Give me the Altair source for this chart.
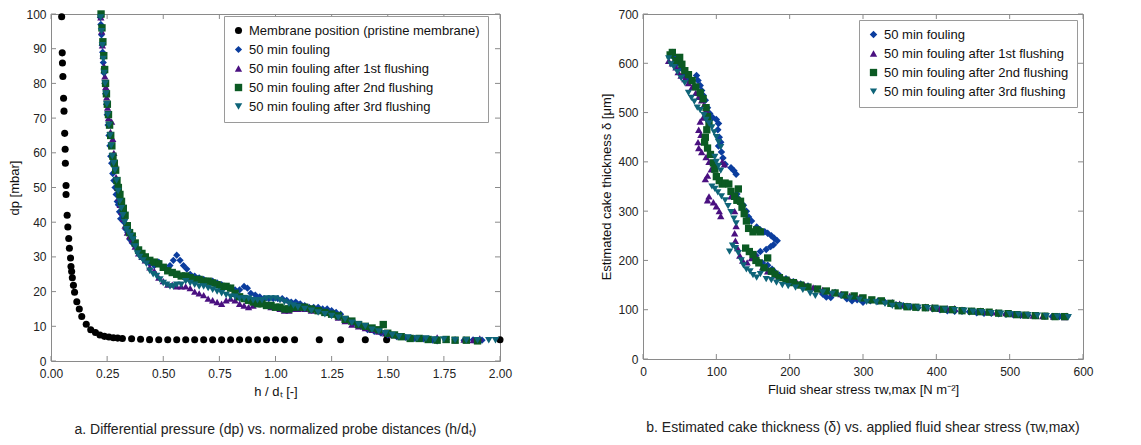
import altair as alt
import pandas as pd

# ---------------- data: panel a (dp vs h/dt) ----------------
series_a = ["Membrane position (pristine membrane)", "50 min fouling",
            "50 min fouling after 1st flushing", "50 min fouling after 2nd flushing",
            "50 min fouling after 3rd flushing"]
series_b = series_a[1:]

membrane_a = [(0.0475, 99.2), (0.050, 88.8), (0.051, 85.9), (0.053, 82), (0.056, 75.7), (0.058, 72),
              (0.061, 65.6), (0.063, 61), (0.064, 57), (0.067, 50.6), (0.067, 48), (0.072, 42),
              (0.075, 38.6), (0.079, 35.3), (0.082, 32.5), (0.087, 29.7), (0.089, 27.2), (0.092, 25.8),
              (0.095, 24), (0.100, 21.8), (0.105, 19.8), (0.115, 17.1), (0.126, 15), (0.137, 12.8),
              (0.157, 10.6), (0.177, 9), (0.198, 8.2), (0.218, 7.5), (0.238, 7.1), (0.258, 6.9),
              (0.278, 6.7), (0.297, 6.6), (0.318, 6.5), (0.359, 6.4), (0.399, 6.25), (0.439, 6.15),
              (0.48, 6.1), (0.52, 6.1), (0.56, 6.1), (0.60, 6.1), (0.64, 6.1), (0.68, 6.1), (0.72, 6.1),
              (0.76, 6.1), (0.80, 6.1), (0.84, 6.1), (0.88, 6.1), (0.92, 6.1), (0.96, 6.1), (1.00, 6.1),
              (1.04, 6.1), (1.085, 6.1), (1.195, 6.1), (1.29, 6.1), (1.40, 6.1), (1.495, 6.1), (2.0, 6.1)]

fouling_a = [(0.220, 99), (0.222, 97), (0.225, 94), (0.228, 91), (0.230, 89), (0.233, 86), (0.236, 83),
             (0.240, 80), (0.243, 77), (0.247, 74), (0.250, 71), (0.254, 68), (0.258, 65), (0.262, 62),
             (0.266, 59), (0.270, 57), (0.275, 54), (0.280, 52), (0.285, 50), (0.290, 48), (0.295, 46),
             (0.300, 45), (0.305, 43), (0.310, 41), (0.318, 42), (0.325, 40), (0.333, 38), (0.342, 37),
             (0.352, 35), (0.362, 34), (0.375, 33), (0.390, 31), (0.405, 30), (0.420, 29), (0.440, 28),
             (0.460, 27.5), (0.480, 28.5), (0.500, 27), (0.515, 26.5), (0.530, 27.5), (0.545, 29),
             (0.560, 30.5), (0.575, 29), (0.590, 27.5), (0.605, 26.5), (0.620, 25), (0.640, 24.5),
             (0.660, 24), (0.680, 23.5), (0.700, 23), (0.720, 23), (0.740, 22.5), (0.760, 22),
             (0.780, 21.5), (0.800, 21), (0.820, 20.5), (0.840, 20.5), (0.860, 21.5), (0.875, 21),
             (0.890, 19.5), (0.910, 19), (0.930, 18.5), (0.950, 18), (0.970, 18), (0.990, 18),
             (1.010, 18), (1.030, 18), (1.050, 17.5), (1.070, 17), (1.090, 17), (1.110, 16.5),
             (1.130, 16), (1.150, 15.5), (1.170, 15.5), (1.190, 15.5), (1.210, 15), (1.230, 15),
             (1.250, 14.5), (1.270, 14), (1.290, 13.5), (1.320, 12), (1.350, 11), (1.380, 10),
             (1.410, 9), (1.440, 8.5), (1.470, 8), (1.500, 7.5), (1.540, 7), (1.580, 6.8), (1.620, 6.5),
             (1.660, 6.4), (1.700, 6), (1.720, 5.8), (1.760, 6.2), (1.800, 6.1), (1.840, 6),
             (1.880, 6.1), (1.920, 6)]

flush1_a = [(0.222, 99), (0.226, 95), (0.229, 91), (0.232, 88), (0.236, 85), (0.240, 82), (0.244, 79),
            (0.248, 76), (0.252, 73), (0.256, 70), (0.260, 68), (0.265, 66), (0.270, 69), (0.275, 64),
            (0.280, 60), (0.285, 57), (0.290, 53), (0.296, 50), (0.302, 47), (0.308, 45), (0.315, 43),
            (0.322, 41), (0.330, 39), (0.340, 37), (0.350, 36), (0.362, 35), (0.375, 33), (0.390, 31),
            (0.405, 30), (0.420, 29), (0.440, 27), (0.460, 26), (0.480, 24), (0.500, 23), (0.520, 22),
            (0.540, 22), (0.560, 21.5), (0.580, 21.5), (0.600, 21.5), (0.620, 21), (0.640, 20),
            (0.660, 19.5), (0.680, 19), (0.700, 18), (0.720, 17.5), (0.740, 17), (0.760, 16.5),
            (0.780, 17.5), (0.800, 18), (0.820, 17.5), (0.840, 16.5), (0.860, 16), (0.880, 15.5),
            (0.900, 16), (0.920, 17), (0.940, 16.5), (0.960, 16), (0.980, 15.5), (1.000, 15.5),
            (1.020, 15), (1.040, 14.5), (1.060, 14.5), (1.080, 15), (1.100, 15), (1.130, 15),
            (1.160, 14.5), (1.190, 14.5), (1.220, 14), (1.250, 13.5), (1.280, 12.5), (1.310, 11.5),
            (1.340, 10.5), (1.370, 10), (1.400, 9.5), (1.430, 9), (1.460, 8.5), (1.490, 8),
            (1.520, 7.5), (1.560, 7), (1.600, 6.8), (1.640, 6.5), (1.680, 6.5), (1.720, 6.8),
            (1.760, 6.2), (1.800, 6), (1.840, 6.2), (1.880, 6), (1.910, 6.5)]

flush2_a = [(0.223, 100), (0.227, 96), (0.231, 92), (0.235, 88), (0.239, 84), (0.243, 80), (0.247, 77),
            (0.251, 74), (0.256, 71), (0.261, 68), (0.266, 65), (0.271, 62), (0.276, 59), (0.282, 57),
            (0.288, 55), (0.294, 52), (0.300, 50), (0.307, 48), (0.314, 46), (0.322, 44), (0.330, 42),
            (0.340, 39), (0.350, 37), (0.362, 36), (0.375, 34), (0.390, 32), (0.405, 31), (0.420, 30),
            (0.440, 29), (0.460, 28.5), (0.480, 28), (0.500, 27), (0.520, 26), (0.540, 25.5),
            (0.560, 25), (0.580, 24.5), (0.600, 24.5), (0.620, 24), (0.640, 23.5), (0.660, 23.5),
            (0.680, 23), (0.700, 23), (0.720, 22.5), (0.740, 22), (0.760, 21.5), (0.780, 21.5),
            (0.800, 21), (0.820, 19.5), (0.840, 18.5), (0.860, 18), (0.880, 17.5), (0.900, 17),
            (0.920, 16.5), (0.940, 16.5), (0.960, 16), (0.980, 16), (1.000, 15.5), (1.020, 15.5),
            (1.040, 15), (1.060, 15), (1.080, 15.5), (1.100, 15.5), (1.130, 15.5), (1.160, 15),
            (1.190, 14.5), (1.220, 14), (1.250, 13.5), (1.280, 13), (1.310, 12), (1.340, 11.5),
            (1.370, 10.5), (1.400, 10), (1.430, 9.5), (1.460, 9), (1.480, 10.5), (1.500, 8),
            (1.530, 7.5), (1.560, 7), (1.600, 6.5), (1.640, 6.5), (1.680, 6.2), (1.720, 6),
            (1.760, 6.2), (1.800, 6), (1.850, 6), (1.900, 5.8)]

flush3_a = [(0.221, 99), (0.225, 95), (0.229, 91), (0.233, 87), (0.237, 83), (0.241, 80), (0.245, 77),
            (0.249, 74), (0.253, 71), (0.258, 68), (0.263, 65), (0.268, 62), (0.273, 59), (0.279, 57),
            (0.285, 55), (0.292, 52), (0.299, 49), (0.306, 46), (0.313, 44), (0.320, 42), (0.328, 40),
            (0.336, 38), (0.345, 37), (0.355, 36), (0.365, 35), (0.375, 33), (0.385, 31), (0.395, 30),
            (0.410, 29), (0.425, 28), (0.440, 26), (0.455, 25), (0.470, 24.5), (0.485, 23.5),
            (0.500, 22.5), (0.515, 22), (0.530, 21.5), (0.545, 21.5), (0.560, 22), (0.580, 22),
            (0.600, 23), (0.620, 22.5), (0.640, 22), (0.660, 21.5), (0.680, 21.5), (0.700, 21),
            (0.720, 20.5), (0.740, 20), (0.760, 19.5), (0.780, 19), (0.800, 18.5), (0.820, 18.5),
            (0.840, 18), (0.860, 18), (0.880, 18), (0.900, 17.5), (0.920, 17.5), (0.940, 17.5),
            (0.960, 18), (0.980, 18), (1.000, 18), (1.020, 17.5), (1.040, 17), (1.060, 16.5),
            (1.080, 16), (1.100, 15.5), (1.130, 15), (1.160, 14.5), (1.190, 14), (1.220, 13.5),
            (1.250, 13), (1.280, 12.5), (1.310, 12), (1.340, 11), (1.370, 10.5), (1.400, 10),
            (1.430, 9), (1.460, 8.5), (1.490, 8), (1.520, 7.5), (1.550, 7), (1.590, 6.8), (1.630, 6.5),
            (1.670, 6.5), (1.710, 6.2), (1.750, 6.2), (1.800, 6), (1.850, 6), (1.900, 6), (1.950, 6),
            (1.980, 6)]

# ---------------- data: panel b (cake thickness vs shear stress) ----------------
fouling_b = [(40, 622), (42, 612), (47, 600), (52, 590), (57, 578), (62, 568), (73, 575), (75, 565),
             (78, 555), (80, 545), (82, 535), (85, 525), (88, 510), (91, 498), (95, 490), (100, 486),
             (103, 478), (102, 465), (104, 450), (106, 440), (103, 432), (107, 420), (109, 408),
             (112, 395), (120, 388), (124, 382), (127, 375), (128, 335), (130, 325), (133, 318),
             (137, 312), (141, 300), (144, 288), (148, 280), (155, 268), (160, 262), (166, 258),
             (170, 255), (175, 250), (179, 245), (183, 240), (178, 232), (174, 228), (168, 222),
             (160, 218), (154, 210), (156, 200), (163, 195), (170, 190), (176, 182), (180, 176),
             (186, 170), (195, 163), (205, 157), (215, 152), (225, 148), (235, 142), (245, 132),
             (250, 126), (256, 125), (262, 135), (270, 130), (278, 122), (285, 118), (292, 120),
             (300, 115), (310, 118), (320, 117), (330, 115), (338, 112), (345, 110), (355, 108),
             (365, 106), (375, 104), (385, 104), (395, 102), (405, 100), (415, 98), (425, 97),
             (435, 97), (445, 96), (455, 94), (465, 93), (475, 93), (485, 92), (495, 91), (505, 90),
             (515, 89), (525, 89), (535, 88), (548, 87), (558, 86), (568, 86), (578, 86)]

flush1_b = [(35, 605), (40, 600), (45, 592), (48, 582), (52, 575), (57, 568), (62, 560), (67, 552),
            (72, 540), (76, 532), (80, 525), (83, 515), (86, 505), (82, 490), (78, 482), (76, 465),
            (79, 455), (75, 440), (76, 428), (80, 420), (86, 410), (90, 400), (93, 385), (88, 372),
            (85, 365), (90, 330), (88, 322), (96, 318), (100, 310), (104, 300), (106, 290), (108, 400),
            (111, 395), (120, 330), (125, 300), (127, 270), (125, 255), (126, 240), (129, 225),
            (132, 210), (136, 200), (142, 196), (148, 205), (153, 212), (158, 198), (163, 186),
            (170, 178), (180, 170), (190, 165), (200, 160), (210, 155), (220, 150), (232, 145),
            (245, 140), (258, 135), (270, 132), (282, 128), (295, 125), (310, 120), (325, 118),
            (340, 115), (350, 112), (360, 108), (372, 106), (385, 106), (395, 105), (405, 102),
            (415, 103), (425, 103), (435, 100), (448, 98), (460, 98), (470, 96), (482, 95), (495, 93),
            (508, 91), (520, 90), (532, 88), (545, 87), (560, 86), (575, 85)]

flush2_b = [(37, 617), (40, 622), (45, 605), (50, 612), (53, 598), (57, 585), (62, 577), (67, 565),
            (72, 552), (78, 540), (82, 528), (86, 510), (88, 492), (90, 478), (87, 465), (85, 450),
            (84, 440), (88, 428), (92, 415), (96, 398), (98, 385), (100, 370), (104, 362), (108, 355),
            (112, 357), (117, 355), (120, 340), (125, 330), (128, 322), (130, 345), (133, 320),
            (135, 308), (138, 295), (141, 280), (144, 265), (150, 258), (155, 262), (160, 258),
            (140, 225), (145, 218), (150, 212), (154, 200), (158, 195), (165, 185), (170, 205),
            (175, 178), (180, 172), (186, 165), (195, 160), (205, 155), (215, 150), (225, 146),
            (238, 142), (250, 138), (262, 134), (275, 130), (288, 128), (300, 124), (312, 120),
            (325, 118), (338, 113), (348, 108), (360, 106), (372, 105), (385, 104), (398, 103),
            (410, 101), (422, 100), (435, 98), (448, 97), (460, 96), (472, 95), (485, 93), (498, 92),
            (510, 90), (522, 89), (535, 88), (548, 87), (562, 86), (575, 86)]

flush3_b = [(35, 610), (38, 598), (42, 592), (47, 582), (52, 570), (57, 560), (62, 540), (66, 530),
            (70, 522), (74, 510), (78, 505), (83, 495), (86, 485), (90, 478), (94, 470), (97, 460),
            (100, 450), (103, 440), (106, 430), (98, 410), (100, 400), (103, 392), (106, 382),
            (94, 350), (98, 345), (102, 338), (107, 330), (112, 322), (116, 310), (120, 298),
            (124, 285), (127, 275), (122, 230), (118, 218), (126, 225), (130, 215), (134, 200),
            (137, 190), (141, 182), (146, 178), (150, 170), (155, 165), (160, 172), (168, 162),
            (175, 160), (182, 155), (190, 150), (198, 148), (208, 145), (218, 140), (228, 133),
            (235, 128), (245, 135), (258, 132), (270, 128), (282, 123), (295, 120), (305, 116),
            (318, 115), (330, 112), (340, 108), (350, 108), (362, 106), (375, 104), (388, 103),
            (400, 102), (412, 100), (425, 99), (438, 98), (450, 96), (462, 95), (475, 93), (488, 92),
            (500, 91), (512, 90), (525, 89), (538, 88), (550, 87), (565, 86), (580, 85)]

xticks_a = [0, 0.25, 0.5, 0.75, 1.0, 1.25, 1.5, 1.75, 2.0]
yticks_a = [0, 10, 20, 30, 40, 50, 60, 70, 80, 90, 100]
xticks_b = [0, 100, 200, 300, 400, 500, 600]
yticks_b = [0, 100, 200, 300, 400, 500, 600, 700]

colors = ["#000000", "#0b3d9e", "#4a1080", "#0b5a23", "#0e6478"]
shapes = ["circle", "diamond", "triangle-up", "square", "triangle-down"]
sizes = [50, 56, 52, 42, 52]

FONT = "Liberation Sans"


def frame(pairs, name):
    return pd.DataFrame({"x": [p[0] for p in pairs], "y": [p[1] for p in pairs], "series": name})


def panel(pairs_list, names, cols, shps, szs, xdom, ydom, xt, yt, xfmt, xtitle, ytitle,
          W, H, legx, legy, caption):
    df = pd.concat([frame(p, n) for p, n in zip(pairs_list, names)], ignore_index=True)
    xs = alt.Scale(domain=xdom, nice=False, zero=False)
    ys = alt.Scale(domain=ydom, nice=False, zero=False)
    xax = alt.Axis(values=xt, format=xfmt, labelOverlap=False, labelFlush=False)
    yax = alt.Axis(values=yt, labelOverlap=False, labelFlush=False)

    def X(field="x"):
        return alt.X(f"{field}:Q", scale=xs, title=xtitle, axis=xax)

    def Y(field="y"):
        return alt.Y(f"{field}:Q", scale=ys, title=ytitle, axis=yax)

    legend = alt.Legend(title=None, orient="none", legendX=legx, legendY=legy,
                        fillColor="white", strokeColor="#9a9a9a", padding=8,
                        labelFont=FONT, labelFontSize=13, labelColor="#111",
                        rowPadding=5, labelLimit=400, symbolStrokeWidth=0, symbolSize=30)
    pts = alt.Chart(df).mark_point(filled=True, opacity=1).encode(
        x=X(), y=Y(),
        color=alt.Color("series:N", scale=alt.Scale(domain=names, range=cols), legend=legend,
                        sort=names),
        shape=alt.Shape("series:N", scale=alt.Scale(domain=names, range=shps), sort=names),
        size=alt.Size("series:N", scale=alt.Scale(domain=names, range=szs), legend=None),
    )
    tx = pd.DataFrame({"x": xt})
    ty = pd.DataFrame({"y": yt})
    tick_color = "#8a8a8a"
    bot = alt.Chart(tx).mark_rule(color=tick_color).encode(
        x=X(), y=alt.value(H), y2=alt.value(H - 5))
    top = alt.Chart(tx).mark_rule(color=tick_color).encode(
        x=X(), y=alt.value(0), y2=alt.value(5))
    lef = alt.Chart(ty).mark_rule(color=tick_color).encode(
        y=Y(), x=alt.value(0), x2=alt.value(5))
    rig = alt.Chart(ty).mark_rule(color=tick_color).encode(
        y=Y(), x=alt.value(W), x2=alt.value(W - 5))
    return alt.layer(bot, top, lef, rig, pts).properties(
        width=W, height=H,
        title=alt.TitleParams(caption, orient="bottom", anchor="middle", font=FONT,
                              fontSize=14, fontWeight="normal", color="#222", offset=25),
    )


left = panel([membrane_a, fouling_a, flush1_a, flush2_a, flush3_a], series_a, colors, shapes, sizes,
             [0, 2], [0, 100], xticks_a, yticks_a, ".2f", "h / dₜ [-]", "dp [mbar]",
             449, 347, 173, 2,
             "a. Differential pressure (dp) vs. normalized probe distances (h/dₜ)")

right = panel([fouling_b, flush1_b, flush2_b, flush3_b], series_b, colors[1:], shapes[1:], sizes[1:],
              [0, 600], [0, 700], xticks_b, yticks_b, "d", "Fluid shear stress τw,max [N m⁻²]",
              "Estimated cake thickness δ [μm]",
              440, 345, 216, 6,
              "b. Estimated cake thickness (δ) vs. applied fluid shear stress (τw,max)")

chart = alt.hconcat(left, right, spacing=87).resolve_scale(
    color="independent", shape="independent", size="independent"
).resolve_legend(color="independent", shape="independent", size="independent").configure(
    padding={"left": 8, "top": 7, "right": 0, "bottom": 0},
    background="white",
).configure_view(stroke="#8a8a8a", strokeWidth=1).configure_axis(
    grid=False, domain=False, ticks=False, tickSize=0, labelFont=FONT, labelFontSize=12,
    labelColor="#222", titleFont=FONT, titleFontSize=13, titleFontWeight="normal",
    titleColor="#111"
).configure_axisX(labelPadding=7, titlePadding=6).configure_axisY(labelPadding=5, titlePadding=4)

chart.save("out.html", embed_options={"renderer": "svg", "actions": False})
